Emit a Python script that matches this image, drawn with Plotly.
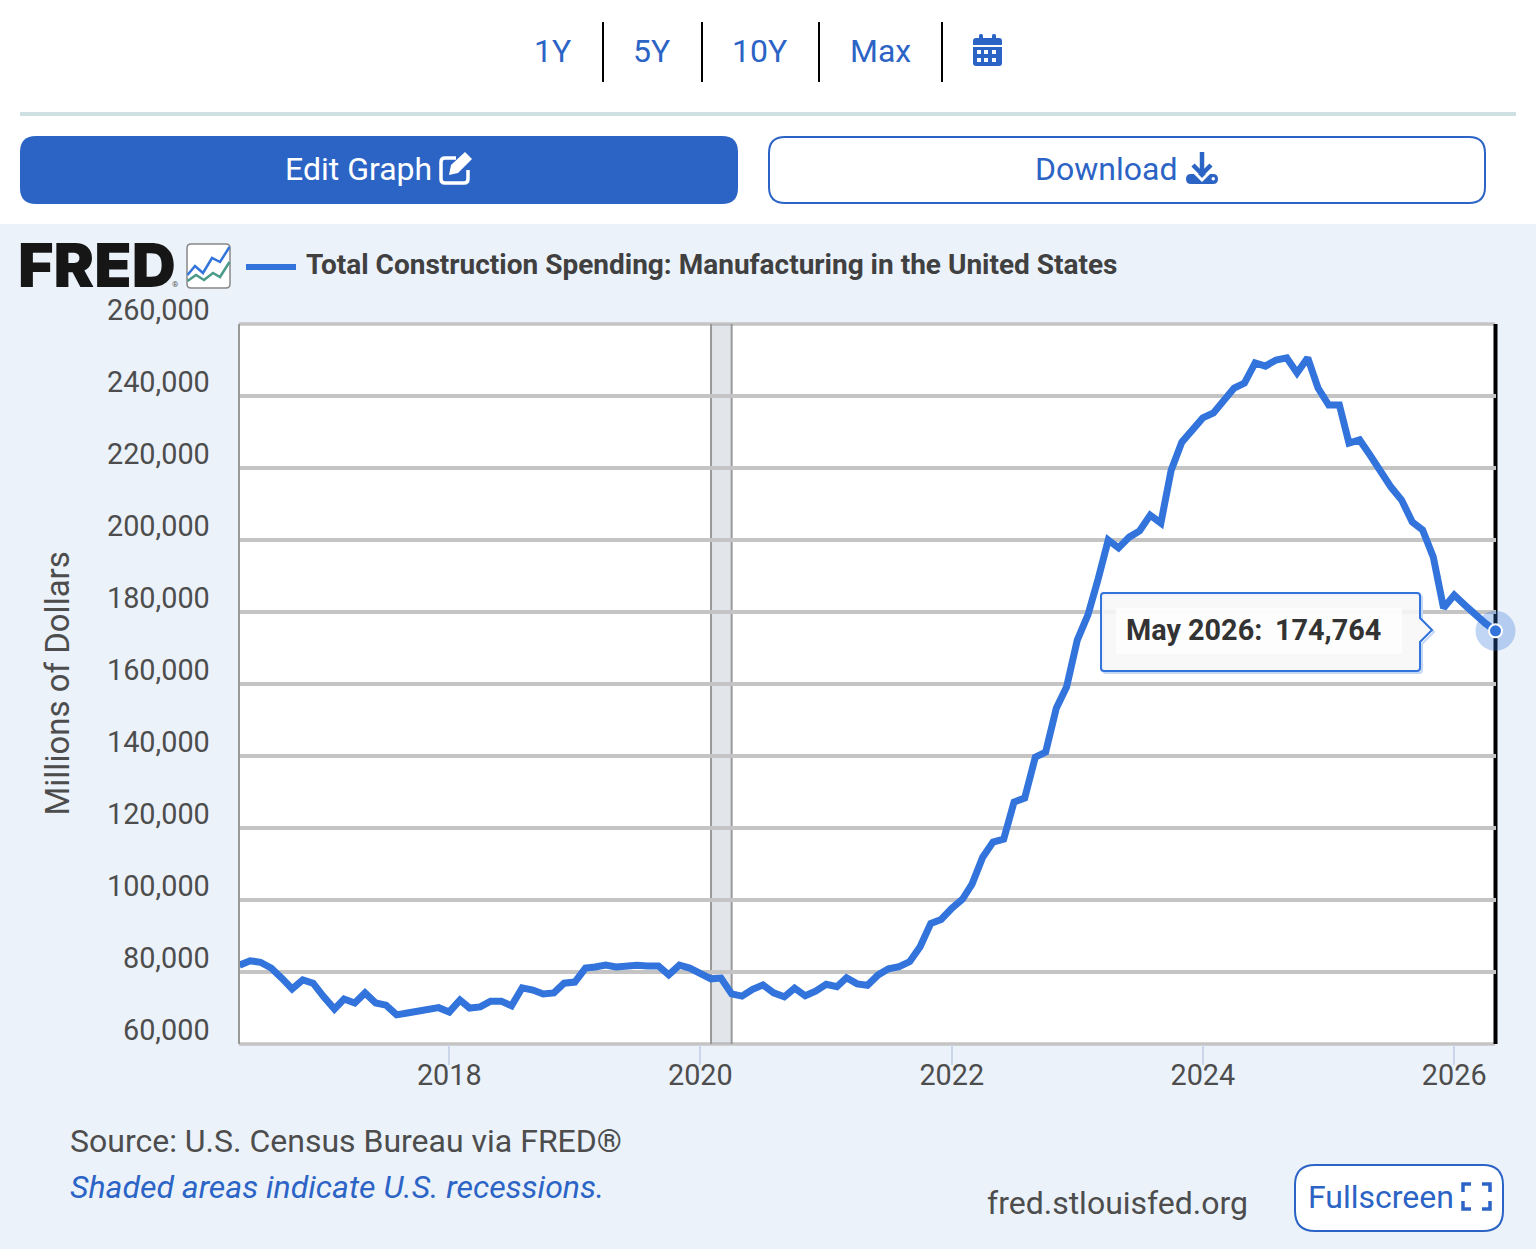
import pandas as pd
import plotly.graph_objects as go

# Total construction spending: manufacturing, monthly, millions of dollars
start_month = "2016-05-01"
spending = [
    81900, 83100, 82700, 81100, 78300, 75300, 77800, 76900, 73100, 69700, 72500, 71400,
    74200, 71400, 70800, 68100, 68600, 69200, 69600, 70100, 68900, 72200, 70000, 70300,
    71900, 71900, 70600, 75600, 75000, 73900, 74200, 76900, 77200, 81100, 81400, 81900,
    81400, 81900, 81900, 81700, 81700, 79200, 81900, 81100, 79400, 78100, 78300, 73900,
    73300, 75200, 76400, 74200, 73100, 75500, 73400, 74700, 76600, 75900, 78400, 76700,
    76300, 79200, 80900, 81500, 82900, 87000, 93500, 94600, 97700, 100200, 104400, 111900,
    116100, 116900, 127200, 128300, 139700, 141100, 153300, 159200, 172200, 179200, 188600, 200000,
    197800, 200800, 202500, 206900, 204700, 219400, 227200, 230800, 233900, 235300, 238900, 242200,
    243600, 249200, 248300, 250000, 250600, 246400, 250600, 242200, 237500, 237500, 226900, 227800,
    223600, 218900, 214700, 211100, 205000, 202800, 195300, 181100, 184700, 181900, 179200, 176900,
    174764,
]
months = pd.date_range(start_month, periods=len(spending), freq="MS")

y_ticks = [60000, 80000, 100000, 120000, 140000, 160000, 180000, 200000, 220000, 240000, 260000]
x_ticks = ["2018-01-01", "2020-01-01", "2022-01-01", "2024-01-01", "2026-01-01"]
x_labels = ["2018", "2020", "2022", "2024", "2026"]
recession = ["2020-02-01", "2020-04-01"]

series_name = "Total Construction Spending: Manufacturing in the United States"
range_buttons = ["1Y", "5Y", "10Y", "Max"]

W, H = 1536, 1249
BLUE = "#2c64c6"
LINE = "#3273dc"
PANEL = "#ebf2fa"
TEXT = "#4d4d4d"
GRID = "#c4c4c4"
FONT = "Roboto"


# page pixels to paper coordinates
def fx(x):
    return x / W


def fy(y):
    return 1 - y / H


def pts(*points):
    return " ".join(("M" if i == 0 else "L") + f"{fx(p[0])},{fy(p[1])}" for i, p in enumerate(points))


def rounded(x0, y0, x1, y1, r):
    return (
        f"M{fx(x0 + r)},{fy(y0)} L{fx(x1 - r)},{fy(y0)} Q{fx(x1)},{fy(y0)} {fx(x1)},{fy(y0 + r)} "
        f"L{fx(x1)},{fy(y1 - r)} Q{fx(x1)},{fy(y1)} {fx(x1 - r)},{fy(y1)} "
        f"L{fx(x0 + r)},{fy(y1)} Q{fx(x0)},{fy(y1)} {fx(x0)},{fy(y1 - r)} "
        f"L{fx(x0)},{fy(y0 + r)} Q{fx(x0)},{fy(y0)} {fx(x0 + r)},{fy(y0)} Z"
    )


# Tooltip box with its little arrow, dx/dy used for the shadow
def tip_outline(dx=0, dy=0):
    x0, x1, y0, y1 = 1101 + dx, 1420 + dx, 593 + dy, 671 + dy
    return (f"M{fx(x0 + 3)},{fy(y0)} L{fx(x1 - 3)},{fy(y0)} Q{fx(x1)},{fy(y0)} {fx(x1)},{fy(y0 + 3)} "
            f"L{fx(x1)},{fy(618 + dy)} L{fx(x1 + 12)},{fy(630 + dy)} L{fx(x1)},{fy(642 + dy)} L{fx(x1)},{fy(y1 - 3)} "
            f"Q{fx(x1)},{fy(y1)} {fx(x1 - 3)},{fy(y1)} L{fx(x0 + 3)},{fy(y1)} Q{fx(x0)},{fy(y1)} {fx(x0)},{fy(y1 - 3)} "
            f"L{fx(x0)},{fy(y0 + 3)} Q{fx(x0)},{fy(y0)} {fx(x0 + 3)},{fy(y0)} Z")


fig = go.Figure()

fig.add_trace(go.Scatter(
    x=months, y=spending, mode="lines",
    line=dict(color=LINE, width=7), hoverinfo="skip", showlegend=False,
))
# Highlighted last point with its halo
fig.add_trace(go.Scatter(
    x=months[-1:], y=spending[-1:], mode="markers", cliponaxis=False,
    marker=dict(size=40, color="rgba(50,115,220,0.3)", line=dict(width=0)),
    hoverinfo="skip", showlegend=False,
))
fig.add_trace(go.Scatter(
    x=months[-1:], y=spending[-1:], mode="markers", cliponaxis=False,
    marker=dict(size=13, color=LINE, line=dict(color="white", width=2)),
    hoverinfo="skip", showlegend=False,
))


def add_path(path, fill=None, color=None, width=0, layer="above"):
    fig.add_shape(
        type="path", xref="paper", yref="paper", path=path, layer=layer,
        fillcolor=fill if fill else "rgba(0,0,0,0)",
        line=dict(color=color if color else "rgba(0,0,0,0)", width=width),
    )


def add_text(x, y, text, size=32, color=TEXT, anchor="center", weight=None, family=FONT):
    font = dict(family=family, size=size, color=color)
    if weight:
        font["weight"] = weight
    fig.add_annotation(
        xref="paper", yref="paper", x=fx(x), y=fy(y), text=text, showarrow=False,
        xanchor=anchor, yanchor="middle", font=font,
        borderpad=0, borderwidth=0,
    )


# White header behind the buttons ----------------------------------
add_path(pts((0, 0), (W, 0), (W, 224), (0, 224)) + " Z", fill="white", layer="below")
add_path(pts((20, 114), (1516, 114)), color="#cfe0e3", width=4)

for label, cx in zip(range_buttons, [552, 651, 759, 880]):
    add_text(cx, 51, label, color=BLUE)
for sep_x in [603, 702, 819, 942]:
    add_path(pts((sep_x, 22), (sep_x, 82)), color="black", width=2)

# Calendar icon
add_path(rounded(973, 38, 1002, 66, 3), fill=BLUE)
add_path(rounded(979, 34, 983, 40, 1.5), fill=BLUE)
add_path(rounded(992, 34, 996, 40, 1.5), fill=BLUE)
add_path(pts((973, 46), (1002, 46)), color="white", width=2)
for cell_y in [52, 60]:
    for cell_x in [979, 986, 994]:
        add_path(pts((cell_x - 2, cell_y - 2), (cell_x + 2, cell_y - 2), (cell_x + 2, cell_y + 2), (cell_x - 2, cell_y + 2)) + " Z", fill="white")

# Edit Graph button
add_path(rounded(20, 136, 738, 204, 16), fill=BLUE)
add_text(358, 169, "Edit Graph", color="white")
add_path(f"M{fx(456)},{fy(158)} L{fx(445)},{fy(158)} Q{fx(441)},{fy(158)} {fx(441)},{fy(162)} L{fx(441)},{fy(179)} "
         f"Q{fx(441)},{fy(183)} {fx(445)},{fy(183)} L{fx(464)},{fy(183)} Q{fx(468)},{fy(183)} {fx(468)},{fy(179)} L{fx(468)},{fy(170)}",
         color="white", width=3.5)
add_path(pts((449, 175), (451, 165), (465, 152), (472, 159), (458, 173)) + " Z", fill="white")

# Download button
add_path(rounded(769, 137, 1485, 203, 16), fill="white", color=BLUE, width=2)
add_text(1106, 169, "Download", color=BLUE)
add_path(rounded(1186, 174, 1218, 184, 5), fill=BLUE)
add_path(pts((1191, 169), (1202, 180), (1213, 169)), color="white", width=3)
add_path(pts((1202, 152), (1202, 172)), color=BLUE, width=4.5)
add_path(pts((1193, 165), (1202, 174), (1211, 165)), color=BLUE, width=4.5)
add_path(rounded(1211.5, 177, 1215, 180.5, 1.7), fill="white")

# FRED logo, mini chart icon, legend ----------------------------------
add_text(17.5, 265, "FRED", size=61, color="#161616", anchor="left", weight=900, family="Inter")
add_text(172, 285, "®", size=8, color="#555555", anchor="left")
add_path(rounded(187, 244, 230, 288, 4), fill="white", color="#888888", width=1.5)
add_path(pts((187.5, 275), (195, 266), (203, 273), (212, 258), (220, 262), (229.5, 247)), color=LINE, width=2.5)
add_path(pts((187.5, 281), (196, 275), (204, 280), (213, 273), (220, 277), (229.5, 262)), color="#4a9a8a", width=2.5)
add_path(pts((246, 267), (296, 267)), color=LINE, width=6)
add_text(306, 264.5, f"<b>{series_name}</b>", size=28, color="#404040", anchor="left")

# Y axis labels sit just above their gridlines in the original ----------
for tick in y_ticks:
    fig.add_annotation(
        xref="paper", yref="y", x=fx(212), y=tick, yshift=14, text=f"{tick:,}", showarrow=False,
        xanchor="right", yanchor="middle", font=dict(family=FONT, size=28.8, color=TEXT),
    )
fig.add_annotation(
    xref="paper", yref="paper", x=fx(56.5), y=fy(684), text="Millions of Dollars", showarrow=False,
    textangle=-90, xanchor="center", yanchor="middle", font=dict(family=FONT, size=33, color=TEXT),
)

# Frame lines at top and bottom of the plot, plotly drops the edge gridlines
add_path(pts((239, 324), (1495, 324)), color=GRID, width=3.5, layer="below")
add_path(pts((239, 1044), (1495, 1044)), color=GRID, width=3.5, layer="below")

# Recession band ----------------------------------
fig.add_shape(
    type="rect", xref="x", yref="paper", x0=recession[0], x1=recession[1],
    y0=fy(1044), y1=fy(324), layer="below",
    fillcolor="rgba(150,160,175,0.28)", line=dict(width=0),
)
for edge in recession:
    fig.add_shape(
        type="line", xref="x", yref="paper", x0=edge, x1=edge,
        y0=fy(1044), y1=fy(324), layer="below", line=dict(color="#999999", width=2),
    )

# Crosshair on the last month, in paper coordinates so it is not clipped
add_path(pts((1495.5, 324), (1495.5, 1044)), color="black", width=4, layer="below")

# Tooltip ----------------------------------
add_path(tip_outline(2, 2), color="#c5d8f3", width=2)
add_path(tip_outline(), fill="rgba(247,247,247,0.88)", color=LINE, width=2)
add_path(pts((1116, 608), (1402, 608), (1402, 654), (1116, 654)) + " Z", fill="rgba(255,255,255,0.75)")
add_text(1126, 630, f"<b>{months[-1].strftime('%b %Y')}:</b>", size=28.8, color="#333333", anchor="left")
add_text(1381, 630, f"<b>{spending[-1]:,}</b>", size=28.8, color="#333333", anchor="right")

# Footer ----------------------------------
add_text(70, 1141, "Source: U.S. Census Bureau via FRED®", size=32, anchor="left")
add_text(70, 1187, "<i>Shaded areas indicate U.S. recessions.</i>", size=32, color=BLUE, anchor="left")
add_text(987, 1203, "fred.stlouisfed.org", size=32, anchor="left")
add_path(rounded(1295, 1165, 1503, 1231, 20), fill="white", color=BLUE, width=2)
add_text(1308, 1197, "Fullscreen", color=BLUE, anchor="left")
for cx, cy, dx, dy in [(1463, 1184, 1, 1), (1490, 1184, -1, 1), (1463, 1209, 1, -1), (1490, 1209, -1, -1)]:
    add_path(pts((cx + 8 * dx, cy), (cx, cy), (cx, cy + 8 * dy)), color=BLUE, width=3.5)

fig.update_layout(
    width=W, height=H, autosize=False,
    margin=dict(l=0, r=0, t=0, b=0, pad=0),
    paper_bgcolor=PANEL, plot_bgcolor="white",
    font=dict(family=FONT, color=TEXT),
    xaxis=dict(
        domain=[fx(239.5), fx(1495.5)], type="date",
        range=[months[0], months[-1]],
        tickmode="array", tickvals=x_ticks, ticktext=x_labels,
        tickfont=dict(family=FONT, size=28.8, color=TEXT),
        ticks="outside", ticklen=20, tickwidth=2, tickcolor="#ccd6eb",
        ticklabelstandoff=-15,
        showgrid=False, showline=False,
        zeroline=False, fixedrange=True,
    ),
    yaxis=dict(
        domain=[fy(1044), fy(324)],
        range=[y_ticks[0], y_ticks[-1]],
        tickmode="array", tickvals=y_ticks, showticklabels=False,
        showgrid=True, gridcolor=GRID, gridwidth=3.5,
        zeroline=False, showline=True, linecolor="#999999", linewidth=2,
        fixedrange=True,
    ),
)

fig.write_html(
    "out.html",
    config=dict(displayModeBar=False),
    post_script="document.body.style.margin='0';document.body.style.overflow='hidden';",
)
